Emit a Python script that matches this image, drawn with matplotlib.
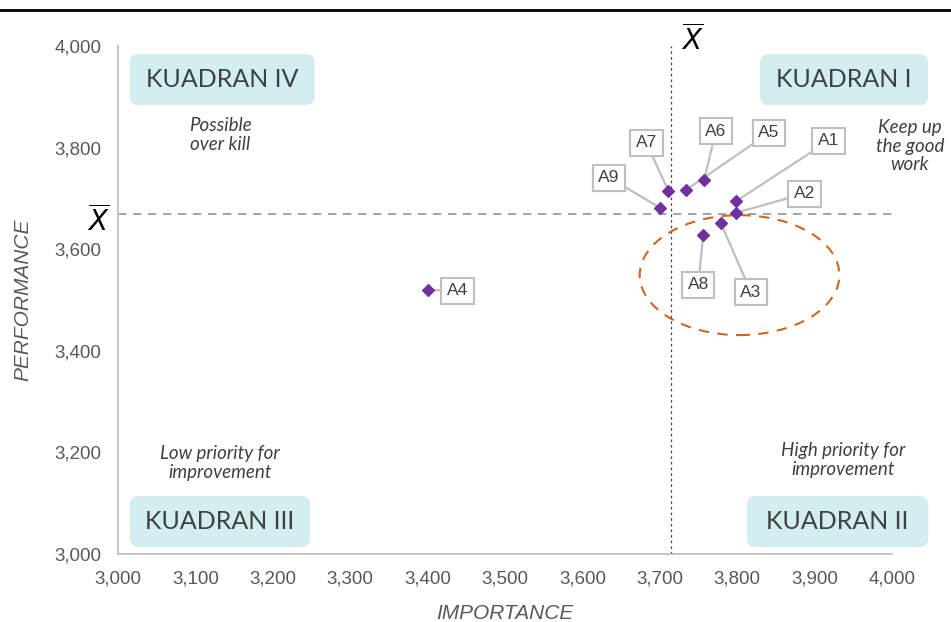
import matplotlib
matplotlib.use("Agg")
import matplotlib.pyplot as plt
from matplotlib.patches import Ellipse, FancyBboxPatch
from matplotlib.lines import Line2D
from matplotlib.ticker import FuncFormatter, MultipleLocator
import numpy as np

# %% data
labels = ["A1", "A2", "A3", "A4", "A5", "A6", "A7", "A8", "A9"]
importance = [3799, 3799, 3779, 3400, 3734, 3757, 3711, 3756, 3700]
performance = [3695, 3672, 3651, 3520, 3717, 3736, 3715, 3628, 3682]

# label offsets in pixels (right, up)
offsets = {
    "A1": (92, 60), "A2": (68, 19), "A3": (30, -69), "A4": (30, -1),
    "A5": (83, 57), "A6": (12, 49), "A7": (-22, 48), "A8": (-5, -50),
    "A9": (-51, 30),
}

xbar = np.mean(importance)
ybar = np.mean(performance)

grey = "#595959"
spine = "#bfbfbf"
box_fc = "#d2eef0"
purple = "#7030a0"

plt.rcParams["font.family"] = ["Liberation Sans", "DejaVu Sans"]
plt.rcParams["mathtext.fontset"] = "dejavusans"

# %% figure
fig = plt.figure(figsize=(9.51, 6.22), dpi=100)
ax = fig.add_axes([0.1241, 0.1093, 0.8139, 0.8167])

ax.set_xlim(3000, 4000)
ax.set_ylim(3000, 4000)
ax.xaxis.set_major_locator(MultipleLocator(100))
ax.yaxis.set_major_locator(MultipleLocator(200))
fmt = FuncFormatter(lambda v, p: f"{v:,.0f}")
ax.xaxis.set_major_formatter(fmt)
ax.yaxis.set_major_formatter(fmt)
ax.tick_params(length=0, labelsize=13.5, labelcolor=grey, pad=12)

for s in ["top", "right"]:
    ax.spines[s].set_visible(False)
for s in ["left", "bottom"]:
    ax.spines[s].set_color(spine)
    ax.spines[s].set_linewidth(1.3)

ax.set_xlabel("IMPORTANCE", fontsize=15, style="italic", color=grey, labelpad=12)
ax.set_ylabel("PERFORMANCE", fontsize=15, style="italic", color=grey, labelpad=16)

# mean lines
ax.axvline(xbar, color="#404040", lw=0.9, ls=(0, (2, 2.5)), zorder=1)
ax.axhline(ybar, color="#8c95a6", lw=1.2, ls=(0, (5, 4)), zorder=1)

ax.text(0.742, 1.012, r"$\overline{X}$", transform=ax.transAxes, fontsize=20,
        ha="center", va="center", color="black")
ax.text(-0.026, 0.654, r"$\overline{X}$", transform=ax.transAxes, fontsize=20,
        ha="center", va="center", color="black")

# points + callouts
ax.scatter(importance, performance, marker="D", s=36, color=purple, zorder=4)
for lab, x, y in zip(labels, importance, performance):
    dx, dy = offsets[lab]
    ax.annotate(lab, xy=(x, y), xytext=(dx, dy), textcoords="offset pixels",
                ha="center", va="center", fontsize=12.5, color="#404040",
                bbox=dict(boxstyle="square,pad=0.32", fc="white", ec=spine, lw=1.5),
                arrowprops=dict(arrowstyle="-", color=spine, lw=1.6,
                                shrinkA=0, shrinkB=2), zorder=3)

# highlight ellipse
ax.add_patch(Ellipse((3803, 3549), 258, 236, fill=False, ec="#d0661f",
                     lw=1.5, ls=(0, (5, 4)), zorder=2))

# quadrant labels: (text, centre x, centre y, box width) in axes fraction
quad = [("KUADRAN IV", 0.1344, 0.934, 0.239), ("KUADRAN I", 0.938, 0.934, 0.217),
        ("KUADRAN III", 0.1318, 0.064, 0.2326), ("KUADRAN II", 0.9296, 0.064, 0.234)]
bh = 0.1004
for t, qx, qy, bw in quad:
    ax.add_patch(FancyBboxPatch((qx - bw / 2, qy - bh / 2), bw, bh,
                                boxstyle="round,pad=0,rounding_size=0.011",
                                mutation_aspect=774 / 508, transform=ax.transAxes,
                                fc=box_fc, ec="none", clip_on=False, zorder=2))
    ax.text(qx, qy, t, transform=ax.transAxes, ha="center", va="center",
            fontsize=18, family=["Lato", "DejaVu Sans"], color="#404040", zorder=3)

notes = [("Possible\nover kill", 0.132, 0.825), ("Keep up\nthe good\nwork", 1.023, 0.803),
         ("Low priority for\nimprovement", 0.132, 0.179),
         ("High priority for\nimprovement", 0.937, 0.185)]
for t, nx, ny in notes:
    ax.text(nx, ny, t, transform=ax.transAxes, ha="center", va="center",
            fontsize=13.5, style="italic", family=["Lato", "DejaVu Sans"],
            color="#404040", linespacing=1.1)

fig.add_artist(Line2D([0, 1], [1 - 10 / 622, 1 - 10 / 622], color="black", lw=2))

fig.savefig("out.png", dpi=100)
